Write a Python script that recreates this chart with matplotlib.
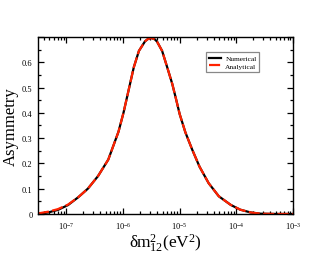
import matplotlib
matplotlib.use("Agg")
import matplotlib.pyplot as plt
from matplotlib.ticker import MultipleLocator, FuncFormatter, LogLocator

plt.rcParams["font.family"] = ["Liberation Serif", "DejaVu Serif"]
plt.rcParams["mathtext.fontset"] = "custom"
plt.rcParams["mathtext.rm"] = "Liberation Serif"
plt.rcParams["mathtext.it"] = "Liberation Serif:italic"

# delta m^2_12 (eV^2)
dm2 = [3.16e-8, 4.79e-8, 7.08e-8, 1.07e-7, 1.62e-7, 2.40e-7, 3.63e-7, 5.50e-7,
       8.32e-7, 1.02e-6, 1.55e-6, 1.91e-6, 2.45e-6, 2.75e-6, 3.16e-6, 3.63e-6,
       3.98e-6, 4.90e-6, 6.03e-6, 7.41e-6, 8.51e-6, 1.00e-5, 1.26e-5, 1.66e-5,
       2.24e-5, 3.24e-5, 4.90e-5, 7.94e-5, 1.17e-4, 1.78e-4, 2.69e-4, 5.01e-4,
       1.00e-3]
asym_num = [0.000, 0.006, 0.016, 0.035, 0.066, 0.100, 0.150, 0.215,
            0.325, 0.400, 0.580, 0.645, 0.683, 0.692, 0.696, 0.691,
            0.682, 0.645, 0.580, 0.514, 0.460, 0.395, 0.323, 0.255,
            0.187, 0.122, 0.070, 0.036, 0.017, 0.006, 0.001, 0.000,
            0.000]
asym_ana = [0.002, 0.009, 0.019, 0.037, 0.066, 0.100, 0.150, 0.215,
            0.325, 0.400, 0.580, 0.645, 0.683, 0.692, 0.696, 0.691,
            0.682, 0.645, 0.580, 0.514, 0.460, 0.395, 0.323, 0.255,
            0.187, 0.122, 0.070, 0.036, 0.017, 0.006, 0.001, 0.000,
            0.000]

fig = plt.figure(figsize=(3.3, 2.55), dpi=100)
ax = fig.add_axes([0.115, 0.157, 0.773, 0.694])

ax.plot(dm2, asym_num, color="black", lw=1.6, label="Numerical",
        solid_joinstyle="round")
ax.plot(dm2, asym_ana, color="#ff2200", lw=1.6, dashes=(5, 1.5), label="Analytical",
        dash_joinstyle="round")

ax.set_xscale("log")
ax.set_xlim(3.16e-8, 1e-3)
ax.set_ylim(0, 0.7)

ax.xaxis.set_major_locator(LogLocator(base=10, numticks=10))
ax.xaxis.set_minor_locator(LogLocator(base=10, subs=range(2, 10), numticks=20))
ax.yaxis.set_major_locator(MultipleLocator(0.1))
ax.yaxis.set_minor_locator(MultipleLocator(0.05))


def ylab(v, p):
    if abs(v) < 1e-9:
        return "0"
    if v > 0.65:
        return ""
    return f"{v:.1f}"


ax.yaxis.set_major_formatter(FuncFormatter(ylab))

ax.tick_params(which="both", direction="in", top=True, right=True, labelsize=6, width=0.9)
ax.tick_params(which="major", length=4.5, pad=4)
ax.tick_params(which="minor", length=2.5)
for s in ax.spines.values():
    s.set_linewidth(1.0)

ax.set_xlabel(r"$\mathrm{\delta m}^{2}_{12}(\mathrm{eV}^{2})$", fontsize=12.5, labelpad=1)
ax.set_ylabel("Asymmetry", fontsize=12, labelpad=2)

leg = ax.legend(loc="upper left", bbox_to_anchor=(0.645, 0.935), fontsize=5.3,
                handlelength=1.6, handletextpad=0.6, borderpad=0.4,
                labelspacing=0.2, fancybox=False, framealpha=1)
leg.get_frame().set_edgecolor("#888888")
leg.get_frame().set_linewidth(0.9)

fig.savefig("out.png", dpi=100)
